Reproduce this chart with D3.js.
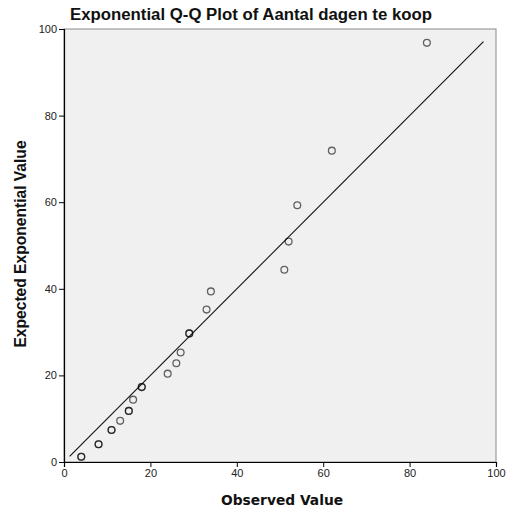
<!DOCTYPE html>
<html>
<head>
<meta charset="utf-8">
<script src="https://cdn.jsdelivr.net/npm/d3@7"></script>
<style>
  body { margin: 0; background: #fff; }
  svg { display: block; }
</style>
</head>
<body>
<div id="chart"></div>
<script>
// observed values (ties listed twice, drawn on top of each other)
const observed = [4, 4, 8, 8, 11, 11, 13, 15, 15, 16, 18, 18, 24, 26, 27, 29, 29, 33, 34, 51, 52, 54, 62, 84];
const expected = [1.2, 1.2, 4.1, 4.1, 7.4, 7.4, 9.5, 11.8, 11.8, 14.4, 17.3, 17.3, 20.4, 22.8, 25.3, 29.7, 29.7, 35.2, 39.4, 44.4, 50.9, 59.3, 71.9, 96.8];
const ticks = [0, 20, 40, 60, 80, 100];
const lineRange = [1.3, 97.1];

const width = 508, height = 509;
const margin = { top: 29, right: 12, bottom: 47, left: 64 };

const svg = d3.select('#chart').append('svg')
  .attr('width', width)
  .attr('height', height);

const x = d3.scaleLinear().domain([0, 100]).range([margin.left, width - margin.right]);
const y = d3.scaleLinear().domain([0, 100]).range([height - margin.bottom, margin.top]);

// plot background + frame
svg.append('rect')
  .attr('x', x(0)).attr('y', y(100))
  .attr('width', x(100) - x(0)).attr('height', y(0) - y(100))
  .attr('fill', '#f0f0f0')
  .attr('stroke', '#8a8a8a')
  .attr('stroke-width', 1);

// axes
const xAxis = svg.append('g')
  .attr('transform', `translate(0,${y(0)})`)
  .call(d3.axisBottom(x).tickValues(ticks).tickSize(5).tickPadding(2));
const yAxis = svg.append('g')
  .attr('transform', `translate(${x(0)},0)`)
  .call(d3.axisLeft(y).tickValues(ticks).tickSize(5).tickPadding(2));

[xAxis, yAxis].forEach(g => {
  g.select('.domain').attr('stroke', '#000').attr('stroke-width', 1.2);
  g.selectAll('.tick line').attr('stroke', '#000');
  g.selectAll('.tick text')
    .attr('fill', '#222')
    .style('font-family', '"Liberation Sans", Arial, sans-serif')
    .style('font-size', '11px');
});

// reference line
svg.append('line')
  .attr('x1', x(lineRange[0])).attr('y1', y(lineRange[0]))
  .attr('x2', x(lineRange[1])).attr('y2', y(lineRange[1]))
  .attr('stroke', '#111')
  .attr('stroke-width', 1.1);

// points
svg.append('g').selectAll('circle')
  .data(observed.map((d, i) => ({ o: d, e: expected[i] })))
  .join('circle')
  .attr('cx', d => x(d.o))
  .attr('cy', d => y(d.e))
  .attr('r', 3.4)
  .attr('fill', 'none')
  .attr('stroke', '#000')
  .attr('stroke-opacity', 0.6)
  .attr('stroke-width', 1.3);

// titles
svg.append('text')
  .attr('x', 251).attr('y', 20)
  .attr('text-anchor', 'middle')
  .style('font-family', '"Liberation Sans", Arial, sans-serif')
  .style('font-weight', 'bold')
  .style('font-size', '16.8px')
  .attr('fill', '#111')
  .text('Exponential Q-Q Plot of Aantal dagen te koop');

svg.append('text')
  .attr('x', 282).attr('y', 505)
  .attr('text-anchor', 'middle')
  .style('font-family', '"DejaVu Sans", Verdana, sans-serif')
  .style('font-weight', 'bold')
  .style('font-size', '13.8px')
  .attr('fill', '#111')
  .text('Observed Value');

svg.append('text')
  .attr('transform', `translate(26,244) rotate(-90)`)
  .attr('text-anchor', 'middle')
  .style('font-family', '"Liberation Sans", Arial, sans-serif')
  .style('font-weight', 'bold')
  .style('font-size', '15.6px')
  .attr('fill', '#111')
  .text('Expected Exponential Value');
</script>
</body>
</html>
